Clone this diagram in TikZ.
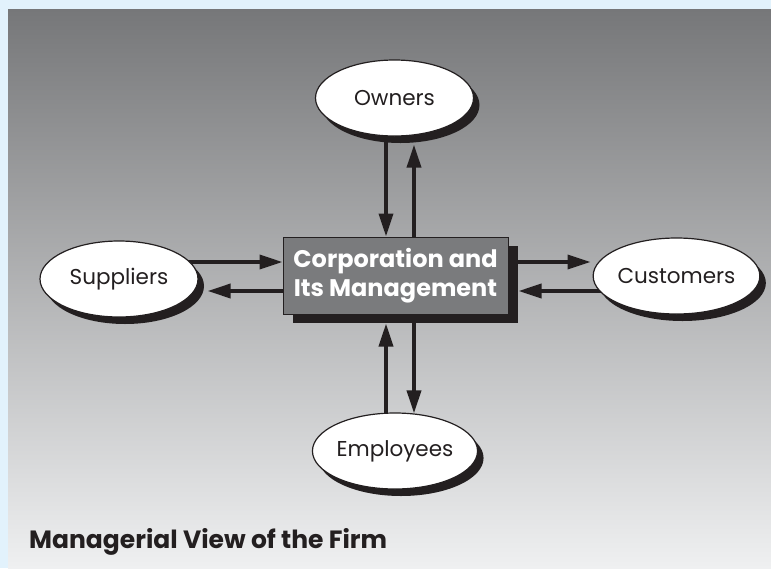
\documentclass[tikz,border=0pt]{standalone}
\usepackage{fontspec}
\setmainfont{Poppins}
\usetikzlibrary{arrows.meta,shapes.geometric,shadows}
\pgfdeclarelayer{bottom}
\pgfdeclarelayer{background}
\pgfsetlayers{bottom,background,main}
\definecolor{bgblue}{HTML}{E2F2FC}
\definecolor{gtop}{HTML}{767779}
\definecolor{gbot}{HTML}{EFF0F1}
\definecolor{boxgray}{HTML}{7A7B7D}
\definecolor{ink}{HTML}{231F20}
\tikzset{
  party/.style={ellipse, draw=ink, line width=1.2pt, fill=white, minimum width=158pt, minimum height=76pt, inner sep=0pt,
    font=\fontsize{21.5}{24}\selectfont, text=ink,
    drop shadow={shadow xshift=6pt, shadow yshift=-7pt, fill=ink, opacity=1}},
  corp/.style={rectangle, draw=ink, line width=1pt, fill=boxgray, minimum width=225pt, minimum height=77pt, inner sep=0pt,
    align=center, text=white, font=\fontsize{24}{29}\selectfont\bfseries,
    drop shadow={shadow xshift=10pt, shadow yshift=-9pt, fill=ink, opacity=1}},
  flow/.style={draw=ink, line width=3.6pt, -{Triangle[length=23pt,width=14pt]}},
  caption/.style={anchor=base west, inner sep=0pt, text=ink, font=\fontsize{25}{28}\selectfont\bfseries}
}
\begin{document}
\begin{tikzpicture}[x=1pt,y=-1pt]
\begin{pgfonlayer}{bottom}
\fill[bgblue] (0,0) rectangle (771,568);
\shade[top color=gtop, bottom color=gbot] (8,9) rectangle (771,568);
\end{pgfonlayer}
\useasboundingbox (0,0) rectangle (771,568);
\coordinate (xl) at (386,0);
\coordinate (xr) at (414,0);
\coordinate (yu) at (0,262);
\coordinate (yd) at (0,291);
\node[corp] (box) at (395.5,275.5) {Corporation and\\Its Management};
\node[party] (owners) at (394.5,98) {Owners};
\node[party] (suppliers) at (119,279) {Suppliers};
\node[party] (customers) at (676.5,276) {Customers};
\node[party] (employees) at (395,451) {Employees};
\node[caption] (title) at (29,548) {Managerial View of the Firm};
\begin{pgfonlayer}{background}
\draw[flow] (owners.center -| xl) -- (box.north -| xl);
\draw[flow] (box.center -| xr) -- ([yshift=-8pt]owners.south -| xr);
\draw[flow] (employees.center -| xl) -- ([yshift=-9pt]box.south -| xl);
\draw[flow] (box.center -| xr) -- ([yshift=-1pt]employees.north -| xr);
\draw[flow] (suppliers.center |- yu) -- (box.west |- yu);
\draw[flow] (box.center |- yd) -- ([xshift=9pt]suppliers.east |- yd);
\draw[flow] (box.center |- yu) -- ([xshift=-2pt]customers.west |- yu);
\draw[flow] (customers.center |- yd) -- ([xshift=10pt]box.east |- yd);
\end{pgfonlayer}
\end{tikzpicture}
\end{document}
